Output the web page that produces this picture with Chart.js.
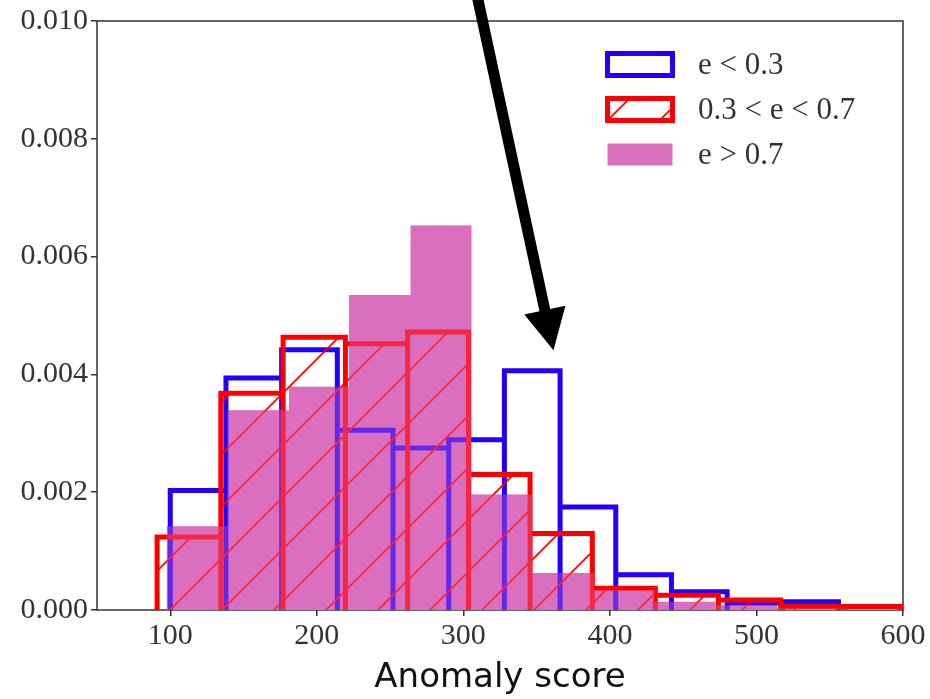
<!DOCTYPE html>
<html>
<head>
<meta charset="utf-8">
<script src="https://cdn.jsdelivr.net/npm/chart.js@4.4.1/dist/chart.umd.min.js"></script>
<style>
  html, body { margin: 0; padding: 0; background: #fff; }
  canvas { display: block; }
</style>
</head>
<body>
<canvas id="histAnomalia" width="930" height="699"></canvas>
<script>
const ctx = document.getElementById('histAnomalia').getContext('2d');

// e < 0.3
const bordesBajo = [100, 138, 176, 214, 252, 290, 328, 366, 404, 442, 480, 518, 556];
const densBajo = [0.00203, 0.00394, 0.00442, 0.00305, 0.00275, 0.00289, 0.00406, 0.00175, 0.00060, 0.00031, 0.00012, 0.00014];
// 0.3 < e < 0.7
const bordesMedio = [91, 134.5, 177, 219.5, 262, 303.5, 345.5, 388, 431, 474, 516.5, 559, 601];
const densMedio = [0.00124, 0.00368, 0.00463, 0.00452, 0.00472, 0.00230, 0.00130, 0.00037, 0.00025, 0.00017, 0.00006, 0.00006];
// e > 0.7
const bordesAlto = [97.5, 139, 181, 222, 264, 305.5, 347, 389, 430.5, 472, 514, 555.5, 597];
const densAlto = [0.00142, 0.00339, 0.00379, 0.00535, 0.00653, 0.00196, 0.00063, 0.00034, 0.00014, 0.00008, 0.00003, 0.00002];

const etiquetas = ['e < 0.3', '0.3 < e < 0.7', 'e > 0.7'];
const ticksX = [100, 200, 300, 400, 500, 600];
const ticksY = [0, 0.002, 0.004, 0.006, 0.008, 0.010];
// flecha (en coordenadas de datos)
const flechaDesde = [308.4, 0.01054];
const flechaHasta = [361.5, 0.00441];

const azul = '#2000ff';
const rojo = '#ff0000';
const magenta = '#da70c0';

// cada barra como rectangulo: sube, cruza y baja a cero
function contorno(bordes, alturas) {
    const pts = [];
    alturas.forEach((h, i) => {
        pts.push({x: bordes[i], y: 0}, {x: bordes[i], y: h}, {x: bordes[i + 1], y: h}, {x: bordes[i + 1], y: 0});
    });
    return pts;
}

// patron de rayas "/"
function rayado(color, paso) {
    const c = document.createElement('canvas');
    c.width = paso; c.height = paso;
    const g = c.getContext('2d');
    g.strokeStyle = color;
    g.lineWidth = 1.7;
    g.beginPath();
    g.moveTo(-2, paso + 2); g.lineTo(paso + 2, -2);
    g.moveTo(-2, 2); g.lineTo(2, -2);
    g.moveTo(paso - 2, paso + 2); g.lineTo(paso + 2, paso - 2);
    g.stroke();
    return ctx.createPattern(c, 'repeat');
}

const fuenteTicks = {family: '"Liberation Serif", "DejaVu Serif", serif', size: 30};

const marco = {
    id: 'marco',
    beforeDatasetsDraw(chart) {
        const {ctx, chartArea: a} = chart;
        ctx.save();
        ctx.strokeStyle = '#333';
        ctx.lineWidth = 1.5;
        ctx.strokeRect(a.left, a.top, a.right - a.left, a.bottom - a.top);
        ctx.restore();
    }
};

// leyenda dentro del area, arriba a la derecha
const leyenda = {
    id: 'leyenda',
    afterDatasetsDraw(chart) {
        const {ctx, chartArea: a} = chart;
        ctx.save();
        ctx.font = '31px "Liberation Serif", "DejaVu Serif", serif';
        ctx.textBaseline = 'middle';
        let y = a.top + 43.5;
        chart.data.datasets.forEach(ds => {
            if (!ds.label) return;
            const x = a.right - 295.5;
            ctx.fillStyle = ds.backgroundColor;
            ctx.fillRect(x, y - 11, 65, 22);
            if (ds.borderWidth > 0) {
                ctx.lineWidth = ds.borderWidth;
                ctx.strokeStyle = ds.borderColor;
                ctx.strokeRect(x, y - 11, 65, 22);
            }
            ctx.fillStyle = '#333';
            ctx.fillText(ds.label, x + 90.5, y + 1);
            y += 45;
        });
        ctx.restore();
    }
};

const flecha = {
    id: 'flecha',
    afterDraw(chart) {
        const {ctx, scales} = chart;
        const x0 = scales.x.getPixelForValue(flechaDesde[0]);
        const y0 = scales.y.getPixelForValue(flechaDesde[1]);
        const x1 = scales.x.getPixelForValue(flechaHasta[0]);
        const y1 = scales.y.getPixelForValue(flechaHasta[1]);
        const ang = Math.atan2(y1 - y0, x1 - x0);
        const largo = 41, ancho = 21;
        const bx = x1 - largo * Math.cos(ang), by = y1 - largo * Math.sin(ang);
        ctx.save();
        ctx.strokeStyle = '#000';
        ctx.fillStyle = '#000';
        ctx.lineWidth = 11;
        ctx.beginPath();
        ctx.moveTo(x0, y0);
        ctx.lineTo(bx + 2 * Math.cos(ang), by + 2 * Math.sin(ang));
        ctx.stroke();
        ctx.beginPath();
        ctx.moveTo(x1, y1);
        ctx.lineTo(bx - ancho * Math.sin(ang), by + ancho * Math.cos(ang));
        ctx.lineTo(bx + ancho * Math.sin(ang), by - ancho * Math.cos(ang));
        ctx.closePath();
        ctx.fill();
        ctx.restore();
    }
};

const graficoAnomalia = new Chart(ctx, {
    type: 'line',
    data: {
        datasets: [{
            label: etiquetas[0],
            data: contorno(bordesBajo, densBajo),
            borderColor: azul,
            backgroundColor: 'rgba(0,0,0,0)',
            borderWidth: 5,
            fill: false,
            order: 2
        }, {
            label: etiquetas[1],
            data: contorno(bordesMedio, densMedio),
            borderColor: rojo,
            backgroundColor: rayado(rojo, 52),
            borderWidth: 5,
            fill: 'origin',
            order: 1
        }, {
            label: etiquetas[2],
            data: contorno(bordesAlto, densAlto),
            borderColor: 'rgba(0,0,0,0)',
            backgroundColor: magenta,
            borderWidth: 0,
            fill: 'origin',
            order: 3
        }, {
            // misma serie e > 0.7, velo translucido sobre los bordes
            data: contorno(bordesAlto, densAlto),
            borderColor: 'rgba(0,0,0,0)',
            backgroundColor: 'rgba(218,112,192,0.36)',
            borderWidth: 0,
            fill: 'origin',
            order: 0
        }]
    },
    options: {
        responsive: false,
        animation: false,
        devicePixelRatio: 1,
        elements: {
            point: {radius: 0, hoverRadius: 0},
            line: {tension: 0, borderJoinStyle: 'miter', borderCapStyle: 'butt'}
        },
        layout: {padding: {top: 20, right: 27, left: 0, bottom: 0}},
        plugins: {
            legend: {display: false},
            tooltip: {enabled: false}
        },
        scales: {
            x: {
                type: 'linear',
                min: 50,
                max: 600,
                afterBuildTicks: s => { s.ticks = ticksX.map(v => ({value: v})); },
                afterFit: s => { s.height = 89; },
                border: {display: false},
                grid: {display: true, drawOnChartArea: false, tickLength: 6, color: '#333', lineWidth: 1.5},
                ticks: {font: fuenteTicks, color: '#333', padding: 2, maxRotation: 0},
                title: {
                    display: true,
                    text: 'Anomaly score',
                    font: {family: '"DejaVu Sans", sans-serif', size: 34},
                    color: '#111',
                    padding: {top: 0, bottom: 0}
                }
            },
            y: {
                min: 0,
                max: 0.010,
                afterBuildTicks: s => { s.ticks = ticksY.map(v => ({value: v})); },
                afterFit: s => { s.width = 97; },
                border: {display: false},
                grid: {display: true, drawOnChartArea: false, tickLength: 6, color: '#333', lineWidth: 1.5},
                ticks: {font: fuenteTicks, color: '#333', padding: 3, callback: v => v.toFixed(3)}
            }
        }
    },
    plugins: [marco, leyenda, flecha]
});
</script>
</body>
</html>
